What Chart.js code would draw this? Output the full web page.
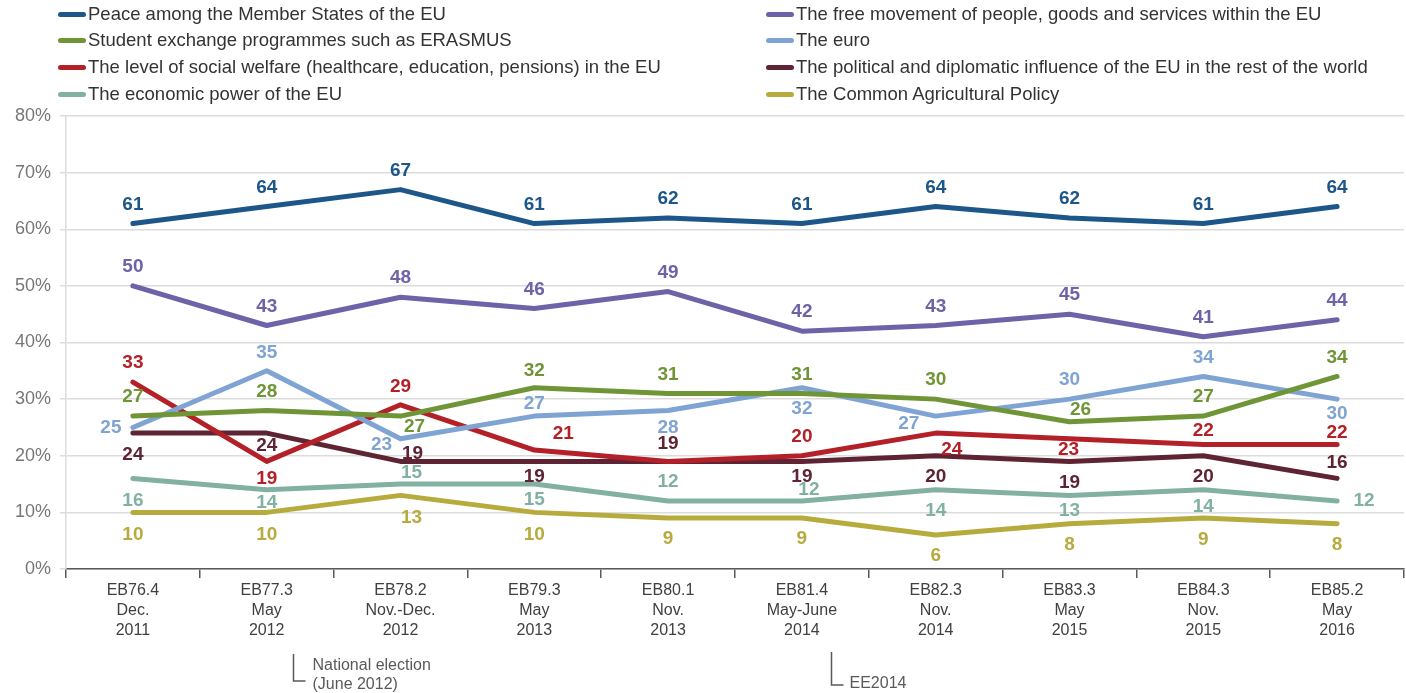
<!DOCTYPE html>
<html>
<head>
<meta charset="utf-8">
<script src="https://cdn.jsdelivr.net/npm/chart.js@4/dist/chart.umd.min.js"></script>
<style>
  html, body { margin: 0; padding: 0; background: #fff; }
  #wrap { position: relative; width: 1406px; height: 693px; }
  #c { position: absolute; left: 0; top: 0; }
  .leg { position: absolute; font-family: 'Liberation Sans', Arial, sans-serif; font-size: 18.5px; color: #333; white-space: nowrap; line-height: 20px; }
  .leg i { display: inline-block; width: 28px; height: 5px; border-radius: 3px; vertical-align: middle; margin-right: 2px; position: relative; top: -1px; }
</style>
</head>
<body>
<div id="wrap">
  <canvas id="c" width="1406" height="693"></canvas>
  <div id="legend"></div>
</div>
<script>
// ---- data ----
const waves  = ['EB76.4','EB77.3','EB78.2','EB79.3','EB80.1','EB81.4','EB82.3','EB83.3','EB84.3','EB85.2'];
const months = ['Dec.','May','Nov.-Dec.','May','Nov.','May-June','Nov.','May','Nov.','May'];
const years  = ['2011','2012','2012','2013','2013','2014','2014','2015','2015','2016'];

const seriesNames = [
  'Peace among the Member States of the EU',
  'The free movement of people, goods and services within the EU',
  'Student exchange programmes such as ERASMUS',
  'The euro',
  'The level of social welfare (healthcare, education, pensions) in the EU',
  'The political and diplomatic influence of the EU in the rest of the world',
  'The economic power of the EU',
  'The Common Agricultural Policy'
];

const peace     = [61, 64, 67, 61, 62, 61, 64, 62, 61, 64];
const freeMove  = [50, 43, 48, 46, 49, 42, 43, 45, 41, 44];
const erasmus   = [27, 28, 27, 32, 31, 31, 30, 26, 27, 34];
const euro      = [25, 35, 23, 27, 28, 32, 27, 30, 34, 30];
const welfare   = [33, 19, 29, 21, 19, 20, 24, 23, 22, 22];
const political = [24, 24, 19, 19, 19, 19, 20, 19, 20, 16];
const economic  = [16, 14, 15, 15, 12, 12, 14, 13, 14, 12];
const cap       = [10, 10, 13, 10,  9,  9,  6,  8,  9,  8];

const yTicks = [0, 10, 20, 30, 40, 50, 60, 70, 80];

// ---- styles / label placement (not data) ----
const colors = ['#1d5689', '#6c63a8', '#6f9536', '#7fa4d3', '#b42027', '#5e2433', '#82b1a3', '#b8ab3e'];
const seriesData = [peace, freeMove, erasmus, euro, welfare, political, economic, cap];

const A = [0, -19], B = [0, 21];
const labelOffsets = [
  [A, A, A, A, A, A, A, A, A, A],
  [A, A, A, A, A, A, A, A, A, A],
  [A, A, [14, 11], [0, -17], A, A, A, [11, -12], A, A],
  [[-22, 0], [0, -18], [-19, 6], [0, -12], [0, 17], B, [-27, 8], A, A, [0, 15]],
  [A, [0, 17], [0, -18], [29, -16], null, A, [16, 17], [-1, 11], [0, -14], [0, -12]],
  [[0, 22], [0, 13], [12, -8], [0, 15], [0, -18], [0, 15], B, B, B, [0, -16]],
  [[0, 22], [0, 13], [11, -11], [0, 16], A, [7, -11], B, [0, 15], [0, 17], [27, 0]],
  [[0, 22], [0, 22], [11, 22], [0, 22], B, B, B, B, [0, 22], B]
];

// ---- legend ----
(function () {
  const leg = document.getElementById('legend');
  const rowsY = [4, 30, 57, 84];
  seriesNames.forEach((name, i) => {
    const col = i % 2, row = Math.floor(i / 2);
    const d = document.createElement('div');
    d.className = 'leg';
    d.style.left = (col === 0 ? 58 : 766) + 'px';
    d.style.top = rowsY[row] + 'px';
    d.innerHTML = '<i style="background:' + colors[i] + '"></i>' + name;
    leg.appendChild(d);
  });
})();

// ---- plugins ----
const valueLabels = {
  id: 'valueLabels',
  afterDatasetsDraw(chart) {
    const ctx = chart.ctx;
    ctx.save();
    ctx.font = 'bold 19px "Liberation Sans", Arial, sans-serif';
    ctx.textAlign = 'center';
    ctx.textBaseline = 'middle';
    chart.data.datasets.forEach((ds, di) => {
      const meta = chart.getDatasetMeta(di);
      meta.data.forEach((pt, i) => {
        const off = labelOffsets[di][i];
        if (!off) return;
        ctx.fillStyle = colors[di];
        ctx.fillText(String(ds.data[i]), pt.x + off[0], pt.y + off[1]);
      });
    });
    ctx.restore();
  }
};

const notes = {
  id: 'notes',
  afterDraw(chart) {
    const ctx = chart.ctx;
    const xs = chart.scales.x;
    const w = xs.getPixelForValue(1) - xs.getPixelForValue(0);
    ctx.save();
    ctx.strokeStyle = '#595959';
    ctx.lineWidth = 1.5;
    ctx.fillStyle = '#595959';
    ctx.font = '16px "Liberation Sans", Arial, sans-serif';
    ctx.textAlign = 'left';
    ctx.textBaseline = 'middle';
    // National election
    let x1 = Math.round(xs.getPixelForValue(1) + w * 0.195) + 0.5;
    ctx.beginPath(); ctx.moveTo(x1, 654); ctx.lineTo(x1, 681); ctx.lineTo(x1 + 12, 681); ctx.stroke();
    ctx.fillText('National election', x1 + 19, 666);
    ctx.fillText('(June 2012)', x1 + 19, 685);
    // EE2014
    let x2 = Math.round(xs.getPixelForValue(5) + w * 0.215) + 0.5;
    ctx.beginPath(); ctx.moveTo(x2, 652); ctx.lineTo(x2, 685); ctx.lineTo(x2 + 12, 685); ctx.stroke();
    ctx.fillText('EE2014', x2 + 18, 684);
    ctx.restore();
  }
};

// ---- chart ----
const labels = waves.map((w, i) => [w, months[i], years[i]]);

new Chart(document.getElementById('c'), {
  type: 'line',
  data: {
    labels: labels,
    datasets: seriesData.map((d, i) => ({
      label: seriesNames[i],
      data: d,
      borderColor: colors[i],
      backgroundColor: colors[i],
      borderWidth: 5,
      pointRadius: 0,
      tension: 0,
      borderCapStyle: 'round',
      borderJoinStyle: 'round',
      fill: false
    }))
  },
  options: {
    responsive: false,
    animation: false,
    layout: { padding: { top: 116, right: 2, left: 0, bottom: 0 } },
    plugins: { legend: { display: false }, tooltip: { enabled: false } },
    scales: {
      x: {
        offset: true,
        grid: { display: true, drawOnChartArea: false, drawTicks: true, tickLength: 9, color: '#595959', lineWidth: 1.5, offset: true },
        border: { display: true, color: '#595959', width: 1.5 },
        ticks: {
          color: '#404040',
          font: { family: '"Liberation Sans", Arial, sans-serif', size: 16, lineHeight: 1.25 },
          padding: 3,
          maxRotation: 0,
          autoSkip: false
        },
        afterFit(scale) { scale.height = 124; }
      },
      y: {
        min: 0, max: 80,
        afterBuildTicks(scale) { scale.ticks = yTicks.map(v => ({ value: v })); },
        grid: { color: '#dcdcdc', lineWidth: 1.5, tickLength: 6 },
        border: { display: true, color: '#dcdcdc', width: 1.5 },
        ticks: {
          color: '#777',
          font: { family: '"Liberation Sans", Arial, sans-serif', size: 18 },
          padding: 9,
          callback: v => v + '%'
        },
        afterFit(scale) { scale.width = 66; }
      }
    }
  },
  plugins: [valueLabels, notes]
});
</script>
</body>
</html>
